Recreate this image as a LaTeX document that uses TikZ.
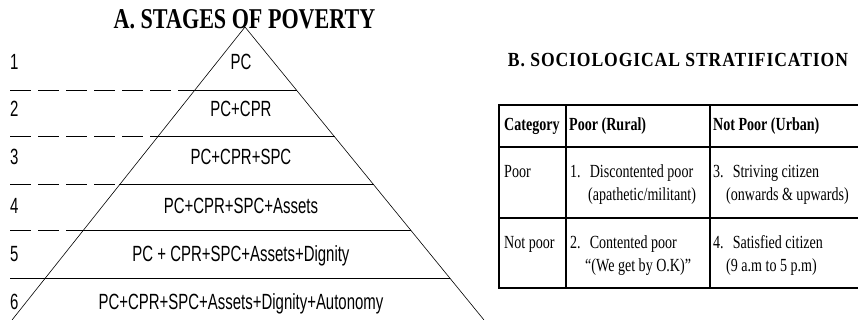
\documentclass[tikz,border=0pt]{standalone}
\usepackage{fontspec}
\newfontfamily\pyrfont[FakeStretch=0.68]{Liberation Sans}
\newfontfamily\tabfont[FakeStretch=0.76]{Liberation Serif}
\newfontfamily\titlefont[FakeStretch=0.77]{Liberation Serif}
\newfontfamily\subtitlefont[FakeStretch=0.88,LetterSpace=4.5]{Liberation Serif}
\usetikzlibrary{calc}

\begin{document}
\begin{tikzpicture}[x=1pt,y=1pt,inner sep=0pt,
    side/.style={line width=0.6pt},
    layer/.style={line width=1.1pt},
    guide/.style={line width=1.1pt,dash pattern=on 21pt off 7pt},
    stage/.style={anchor=base,font=\pyrfont\fontsize{22}{26}\selectfont},
    num/.style={anchor=base west,font=\pyrfont\fontsize{22}{26}\selectfont},
    cell/.style={anchor=base west,font=\tabfont\fontsize{18.5}{23}\selectfont},
    head/.style={cell,font=\tabfont\bfseries\fontsize{18.5}{23}\selectfont}]
    \useasboundingbox (0,0) rectangle (858,320);
    \clip (0,0) rectangle (858,320);

    % pyramid
    \node[font=\titlefont\bfseries\fontsize{28.7}{32}\selectfont] (titleA) at (244.5,300.5) {A. STAGES OF POVERTY};
    \coordinate (top) at (245,293);
    \coordinate (bl)  at (12,0);
    \coordinate (br)  at (484,0);
    \coordinate (edge) at (10,0);
    \draw[side] (bl) -- (top) -- (br);

    \coordinate (l1) at ($(top)!0.218!(bl)$); \coordinate (r1) at ($(top)!0.218!(br)$);
    \coordinate (l2) at ($(top)!0.375!(bl)$); \coordinate (r2) at ($(top)!0.375!(br)$);
    \coordinate (l3) at ($(top)!0.539!(bl)$); \coordinate (r3) at ($(top)!0.539!(br)$);
    \coordinate (l4) at ($(top)!0.696!(bl)$); \coordinate (r4) at ($(top)!0.696!(br)$);
    \coordinate (l5) at ($(top)!0.857!(bl)$); \coordinate (r5) at ($(top)!0.857!(br)$);
    \draw[layer] (l1) -- (r1);
    \draw[layer] (l2) -- (r2);
    \draw[layer] (l3) -- (r3);
    \draw[layer] (l4) -- (r4);
    \draw[layer] (l5 -| edge) -- (r5);
    \draw[guide] (l1 -| edge) -- (l1);
    \draw[guide] (l2 -| edge) -- (l2);
    \draw[guide] (l3 -| edge) -- (l3);
    \draw[guide] (l4 -| edge) -- (l4);

    \node[num] (n1) at (10,250) {1};
    \node[num] (n2) at (10,203) {2};
    \node[num] (n3) at (10,155) {3};
    \node[num] (n4) at (10,106) {4};
    \node[num] (n5) at (10,58)  {5};
    \node[num] (n6) at (10,10)  {6};

    \node[stage] (s1) at (241,250) {PC};
    \node[stage] (s2) at (241,203) {PC+CPR};
    \node[stage] (s3) at (241,155) {PC+CPR+SPC};
    \node[stage] (s4) at (241,106) {PC+CPR+SPC+Assets};
    \node[stage] (s5) at (241,58)  {PC + CPR+SPC+Assets+Dignity};
    \node[stage] (s6) at (241,10)  {PC+CPR+SPC+Assets+Dignity+Autonomy};

    % stratification table
    \node[font=\subtitlefont\bfseries\fontsize{20}{24}\selectfont] (titleB) at (678,260) {B. SOCIOLOGICAL STRATIFICATION};
    \draw[layer] (499,215) rectangle (872,32);
    \draw[layer] (499,173) -- (872,173);
    \draw[layer] (499,102) -- (872,102);
    \draw[layer] (566,215) -- (566,32);
    \draw[layer] (710,215) -- (710,32);

    \node[head] (hcat)   at (504,189) {Category};
    \node[head] (hrural) at (569,189) {Poor (Rural)};
    \node[head] (hurban) at (713,189) {Not Poor (Urban)};

    \node[cell] (poor)    at (504,142) {Poor};
    \node[cell] (notpoor) at (504,71)  {Not poor};

    \node[cell] (c1) at (570,142) {1.\hspace{9pt}Discontented poor};
    \node[cell] (c1b) at (588,119) {(apathetic/militant)};
    \node[cell] (c2) at (570,71) {2.\hspace{9pt}Contented poor};
    \node[cell] (c2b) at (585,48) {“(We get by O.K)”};
    \node[cell] (c3) at (713,142) {3.\hspace{9pt}Striving citizen};
    \node[cell] (c3b) at (726,119) {(onwards \& upwards)};
    \node[cell] (c4) at (713,71) {4.\hspace{9pt}Satisfied citizen};
    \node[cell] (c4b) at (726,48) {(9 a.m to 5 p.m)};
\end{tikzpicture}
\end{document}
